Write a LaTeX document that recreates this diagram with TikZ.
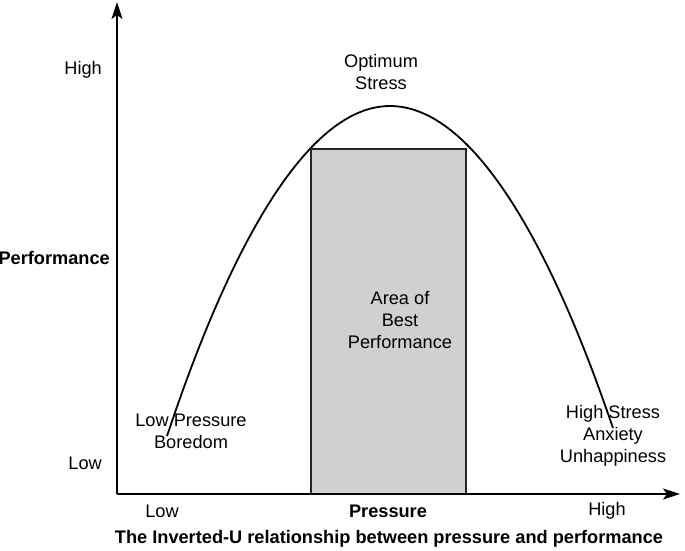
\documentclass[tikz,border=0pt]{standalone}
\usepackage{fontspec}
\setmainfont{Liberation Sans}
\usetikzlibrary{arrows.meta}
\definecolor{areagray}{RGB}{208,208,208}
\tikzstyle{axis}=[-{Stealth[length=17pt,width=11pt,inset=4pt]},line width=1.8pt]
\tikzstyle{curve}=[line width=1.8pt]
\tikzstyle{area}=[fill=areagray,draw=black!85,line width=1.8pt]
\tikzstyle{lbl}=[font=\fontsize{18.2}{22}\selectfont,align=center,inner sep=0pt]
\tikzstyle{blbl}=[font=\fontsize{18.2}{22}\selectfont\bfseries,align=center,inner sep=0pt]

\begin{document}
\begin{tikzpicture}[x=1pt,y=-1pt]
        \useasboundingbox (0,0) rectangle (685,550);
        % axes
        \coordinate (O) at (117, 494);
        \coordinate (ytop) at (117, 2);
        \coordinate (xend) at (680, 494);
        % curve
        \coordinate (cleft) at (167, 436);
        \coordinate (peak) at (390, 106);
        \coordinate (cright) at (613, 428);
        \draw[curve] (cleft) parabola bend (peak) (cright);
        \draw[area] (311, 149) rectangle (466, 494);
        \draw[axis] (O) -- (ytop);
        \draw[axis] (O) -- (xend);
        % labels
        \node[lbl, anchor=east] (yhigh) at (102, 70) {High};
        \node[lbl, anchor=east] (ylow) at (102, 463) {Low};
        \node[blbl, anchor=east] (yname) at (110, 258) {Performance};
        \node[lbl] (xlow) at (162, 511) {Low};
        \node[blbl] (xname) at (388, 511) {Pressure};
        \node[lbl] (xhigh) at (607, 511) {High};
        \node[blbl] (title) at (389, 539) {The Inverted-U relationship between pressure and performance};
        \node[lbl] (optimum) at (381, 72) {Optimum\\Stress};
        \node[lbl] (best) at (400, 320) {Area of\\Best\\Performance};
        \node[lbl] (boredom) at (191, 431) {Low Pressure\\Boredom};
        \node[lbl] (anxiety) at (613, 436) {High Stress\\Anxiety\\Unhappiness};
    \end{tikzpicture}
\end{document}
